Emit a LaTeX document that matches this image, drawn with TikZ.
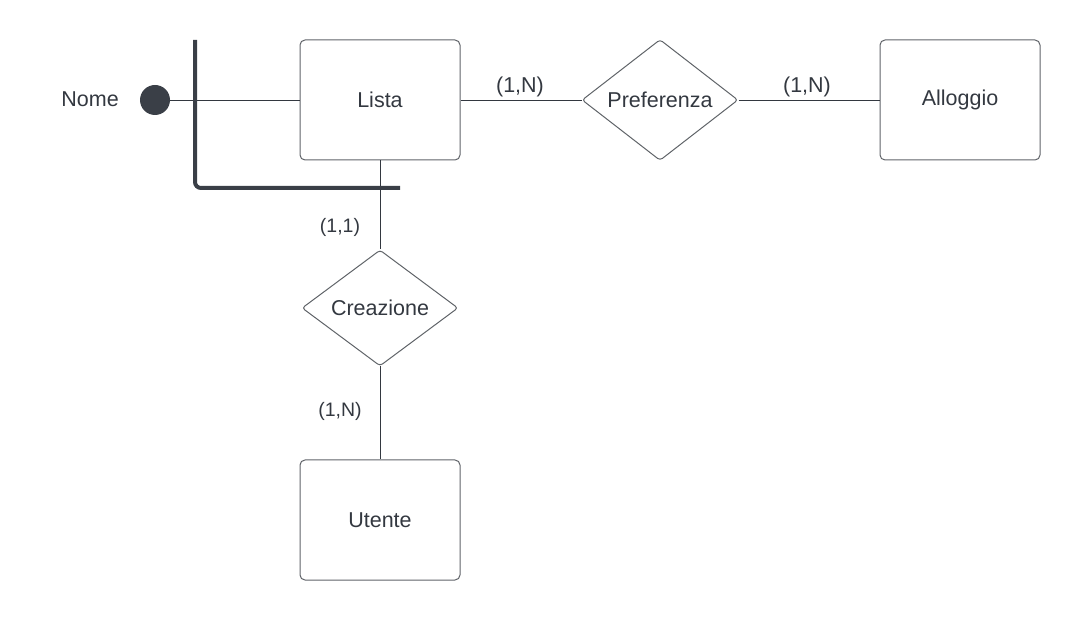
\documentclass[tikz,border=0pt]{standalone}
\usepackage{fontspec}
\setmainfont{Liberation Sans}
\usetikzlibrary{shapes.geometric}
\definecolor{ink}{HTML}{333840}
\definecolor{edge}{HTML}{5F6368}
\definecolor{dark}{HTML}{3A3F47}
\tikzset{
  entity/.style={draw=edge, line width=1pt, rounded corners=5pt, minimum width=160pt, minimum height=120pt, inner sep=0pt, text=ink, font=\fontsize{21.5}{24}\selectfont},
  relation/.style={draw=edge, line width=1pt, diamond, rounded corners=3pt, minimum width=156pt, minimum height=116pt, inner sep=0pt, text=ink, font=\fontsize{21.5}{24}\selectfont},
  conn/.style={draw=ink, line width=0.9pt},
  card/.style={text=ink, font=\fontsize{21.5}{24}\selectfont, inner sep=0pt},
  cardsm/.style={text=ink, font=\fontsize{19.5}{22}\selectfont, inner sep=0pt},
  attr/.style={circle, fill=dark, minimum size=30pt, inner sep=0pt},
  idbar/.style={draw=dark, line width=4pt, rounded corners=6pt}
}
\begin{document}
\begin{tikzpicture}[x=1pt, y=-1pt]
\useasboundingbox (0,0) rectangle (1080,620);
\node[entity] (lista) at (380,100) {Lista};
\node[entity] (alloggio) at (960,100) {Alloggio};
\node[entity] (utente) at (380,520) {Utente};
\node[relation] (pref) at (660,100) {Preferenza};
\node[relation] (crea) at (380,308) {Creazione};
\node[attr] (dot) at (155,100) {};
\node[text=ink, font=\fontsize{21.5}{24}\selectfont, anchor=east, inner sep=0pt] (nome) at (119,99) {Nome};
\coordinate (ltop) at (195,40);
\coordinate (lcorner) at (195,188);
\coordinate (lend) at (400,188);
\draw[conn] (dot) -- (lista.west);
\draw[conn] (lista.east) -- (pref.west);
\draw[conn] (pref.east) -- (alloggio.west);
\draw[conn] (lista.south) -- (crea.north);
\draw[conn] (crea.south) -- (utente.north);
\draw[idbar] (ltop) -- (lcorner) -- (lend);
\node[card] (c1) at (520,87) {(1,N)};
\node[card] (c2) at (807,87) {(1,N)};
\node[cardsm] (c3) at (340,227) {(1,1)};
\node[cardsm] (c4) at (340,411) {(1,N)};
\end{tikzpicture}
\end{document}
